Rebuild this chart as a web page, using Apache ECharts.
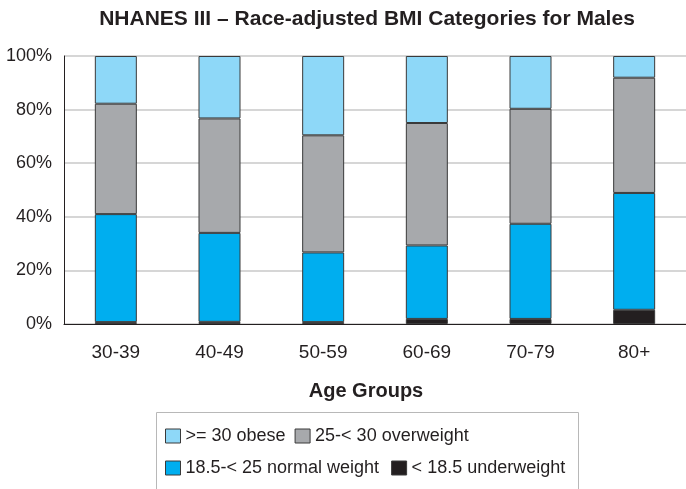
<!DOCTYPE html>
<html>
<head>
<meta charset="utf-8">
<script src="https://cdn.jsdelivr.net/npm/echarts@6/dist/echarts.min.js"></script>
<style>
  html, body { margin: 0; padding: 0; background: #fff; }
  #chart { width: 686px; height: 489px; }
</style>
</head>
<body>
<div id="chart"></div>
<script>
// age groups along the x axis
var ageGroups = ["30-39", "40-49", "50-59", "60-69", "70-79", "80+"];

// percent of males in each BMI category
var underweight = [0.7, 0.8, 0.7, 1.9, 1.9, 5.3];
var normalWeight = [40.3, 33.2, 26.0, 27.4, 35.5, 43.6];
var overweight = [41.2, 42.7, 43.7, 45.7, 42.9, 43.0];
var obese = [17.8, 23.3, 29.6, 25.0, 19.7, 8.1];

var chart = echarts.init(document.getElementById("chart"));

var font = "Liberation Sans";
var ink = "#231f20";
var edge = { borderColor: "#3a3a3a", borderWidth: 1 };

function bar(name, values, color) {
  return {
    name: name,
    type: "bar",
    stack: "bmi",
    barWidth: 42,
    data: values,
    itemStyle: { color: color, borderColor: edge.borderColor, borderWidth: edge.borderWidth },
    emphasis: { disabled: true }
  };
}

var legendText = { fontFamily: font, fontSize: 18, color: ink };

option = {
  animation: false,
  textStyle: { fontFamily: font },
  title: [
    {
      text: "NHANES III \u2013 Race-adjusted BMI Categories for Males",
      left: 362,
      textAlign: "center",
      top: 4,
      textStyle: { fontFamily: font, fontSize: 21, fontWeight: "bold", color: ink }
    },
    {
      // x axis name, sits a bit left of the plot centre in the original
      text: "Age Groups",
      left: 361,
      textAlign: "center",
      top: 376,
      textStyle: { fontFamily: font, fontSize: 20, fontWeight: "bold", color: ink }
    }
  ],
  graphic: [
    {
      type: "rect",
      shape: { x: 156.5, y: 412.5, width: 422, height: 84 },
      style: { fill: "none", stroke: "#b8b8b8", lineWidth: 1 }
    }
  ],
  legend: [
    {
      left: 160,
      top: 422,
      itemWidth: 15,
      itemHeight: 14,
      itemGap: 9,
      icon: "rect",
      selectedMode: false,
      data: [">= 30 obese", "25-< 30 overweight"],
      textStyle: legendText,
      itemStyle: edge
    },
    {
      left: 160,
      top: 454,
      itemWidth: 15,
      itemHeight: 14,
      itemGap: 12,
      icon: "rect",
      selectedMode: false,
      data: ["18.5-< 25 normal weight", "< 18.5 underweight"],
      textStyle: legendText,
      itemStyle: edge
    }
  ],
  grid: { left: 64, top: 56, width: 624, height: 268 },
  xAxis: {
    type: "category",
    data: ageGroups,
    axisLine: { lineStyle: { color: ink, width: 1 } },
    axisTick: { show: false },
    axisLabel: { fontFamily: font, fontSize: 19, color: ink, margin: 19 }
  },
  yAxis: {
    type: "value",
    min: 0,
    max: 100,
    interval: 20,
    axisLine: { show: true, lineStyle: { color: ink, width: 1 } },
    axisTick: { show: false },
    axisLabel: { fontFamily: font, fontSize: 18, color: ink, formatter: "{value}%", margin: 12 },
    splitLine: { lineStyle: { color: "#c8c8c8", width: 1.5 } }
  },
  series: [
    bar("< 18.5 underweight", underweight, "#231f20"),
    bar("18.5-< 25 normal weight", normalWeight, "#00aeef"),
    bar("25-< 30 overweight", overweight, "#a7a9ac"),
    bar(">= 30 obese", obese, "#8ed8f8")
  ]
};

chart.setOption(option);
</script>
</body>
</html>
